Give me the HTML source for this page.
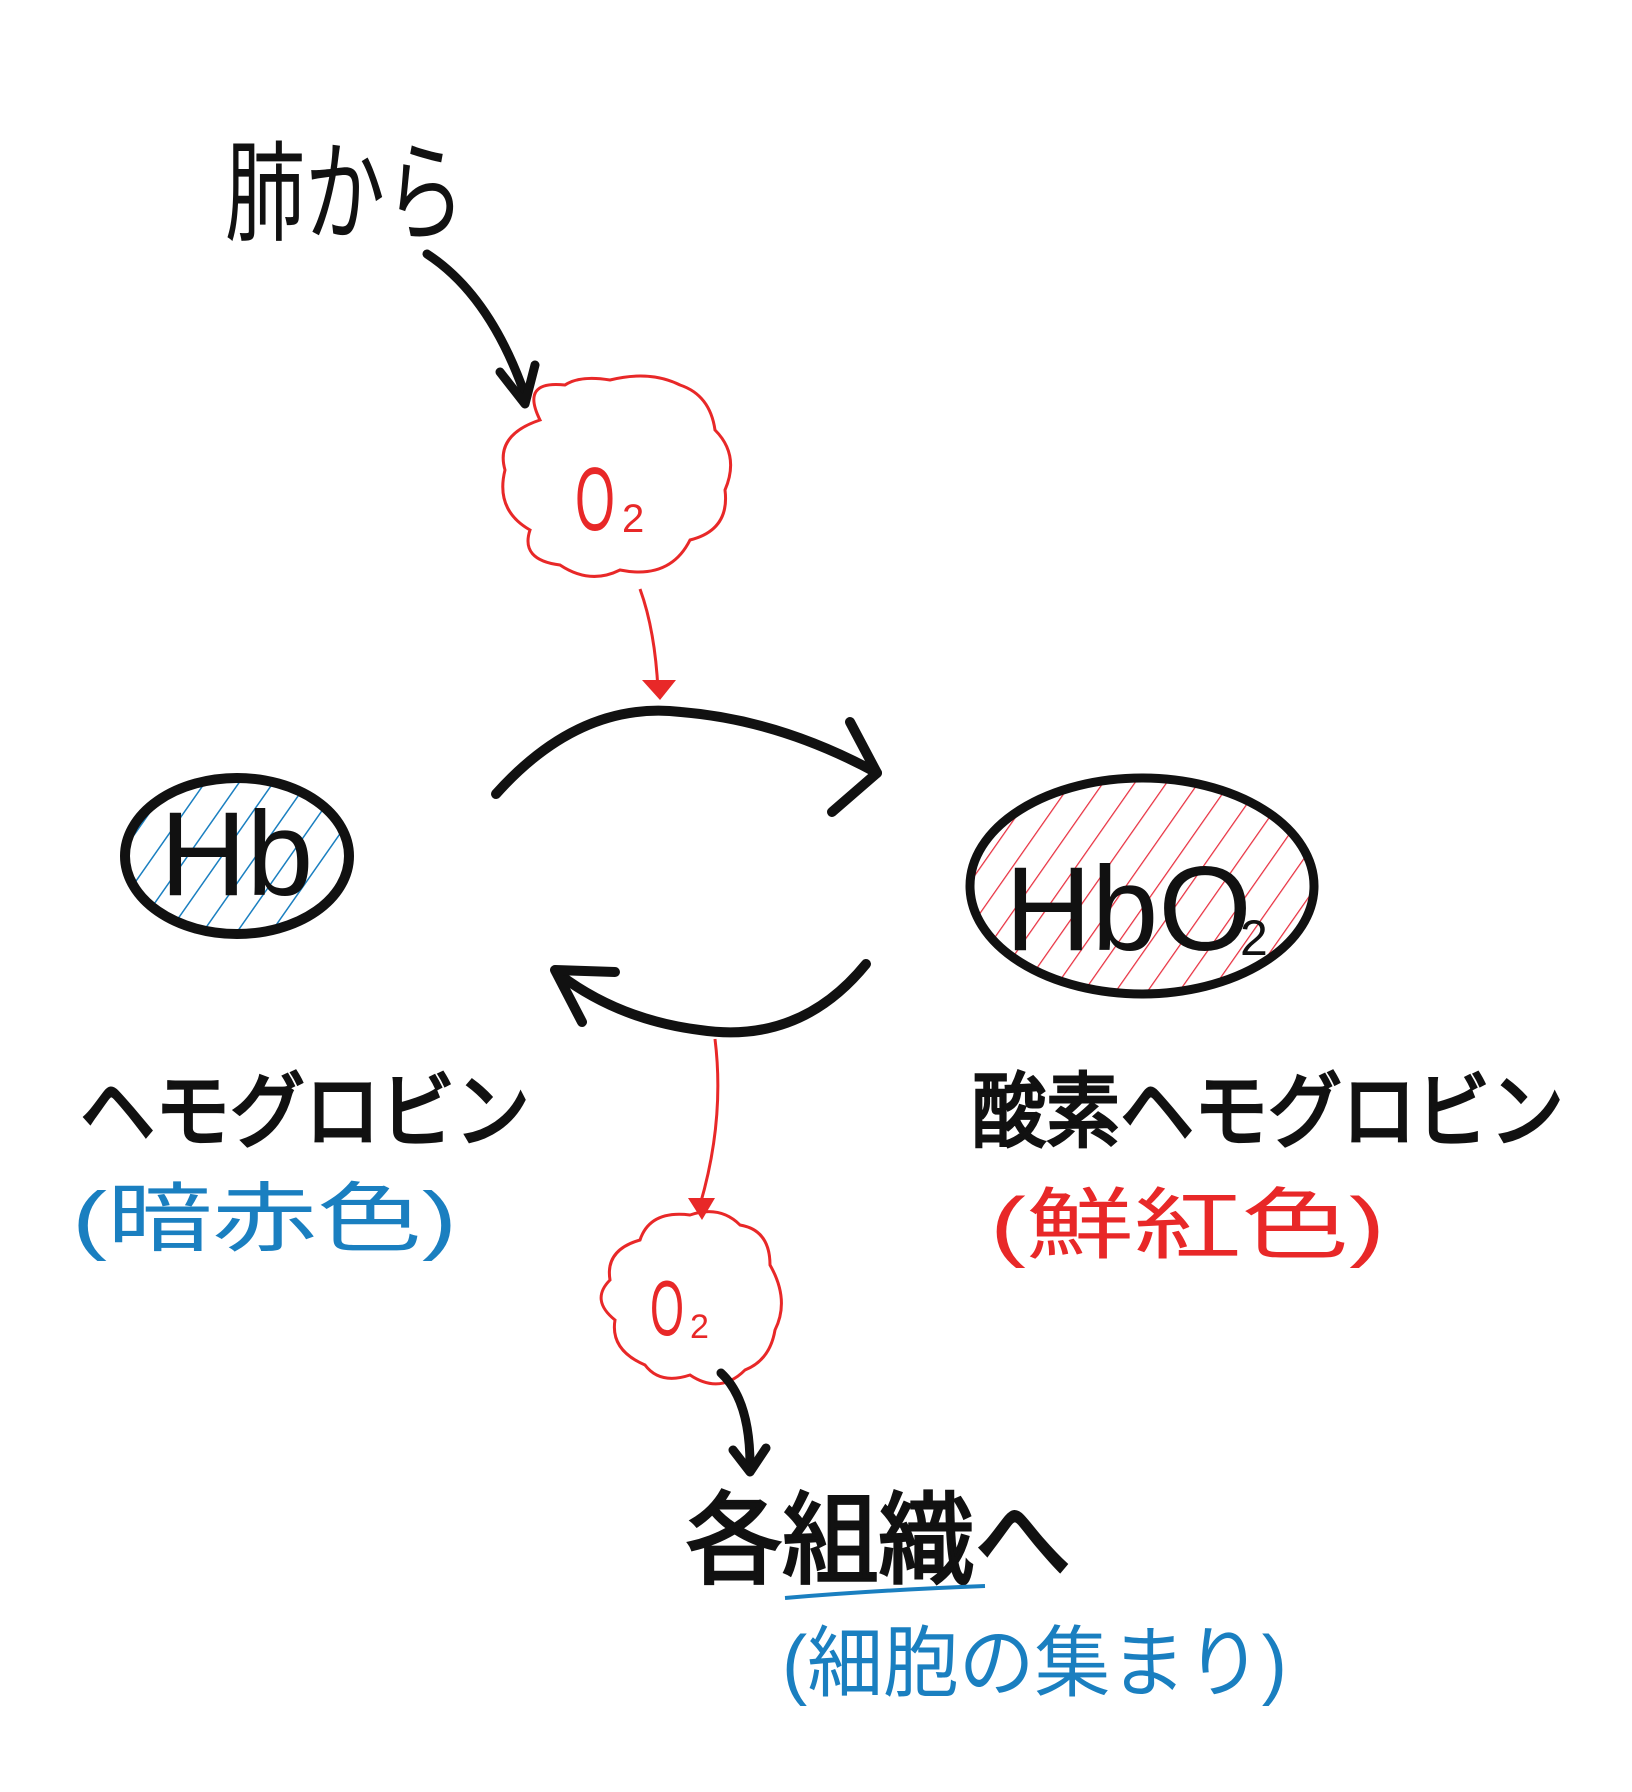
<!DOCTYPE html>
<html><head><meta charset="utf-8">
<style>
html,body{margin:0;padding:0;background:#fff;}
svg{display:block;}
text{font-family:"Liberation Sans","Noto Sans CJK JP",sans-serif;}
</style></head>
<body>
<svg width="1632" height="1792" viewBox="0 0 1632 1792" xmlns="http://www.w3.org/2000/svg">
<defs>
<pattern id="hb" width="28" height="28" patternUnits="userSpaceOnUse" patternTransform="rotate(35)">
<line x1="0" y1="0" x2="0" y2="28" stroke="#1a7fc0" stroke-width="3"/>
</pattern>
<pattern id="hr" width="26" height="26" patternUnits="userSpaceOnUse" patternTransform="rotate(35)">
<line x1="0" y1="0" x2="0" y2="26" stroke="#e83040" stroke-width="2.5"/>
</pattern>
</defs>
<rect width="1632" height="1792" fill="#fff"/>

<text x="225" y="232" font-size="110" fill="#111" textLength="240" lengthAdjust="spacingAndGlyphs">肺から</text>
<path d="M427 254 Q490 295 525 395" fill="none" stroke="#111" stroke-width="9" stroke-linecap="round"/>
<path d="M500 372 L525 404 L535 365" fill="none" stroke="#111" stroke-width="9" stroke-linecap="round" stroke-linejoin="round"/>

<path d="M540 420 Q520 380 565 385 Q580 375 610 380 Q650 370 680 385 Q710 395 715 430 Q740 455 725 490 Q730 530 690 540 Q670 580 620 570 Q590 585 560 565 Q520 560 530 530 Q495 510 505 470 Q495 435 540 420 Z" fill="none" stroke="#e82828" stroke-width="3"/>
<text x="575" y="530" font-size="90" font-weight="300" fill="#e82828" textLength="40" lengthAdjust="spacingAndGlyphs">O</text>
<text x="622" y="532" font-size="40" fill="#e82828">2</text>
<path d="M640 589 Q655 630 658 690" fill="none" stroke="#e82828" stroke-width="3"/>
<path d="M642 680 L676 680 L660 700 Z" fill="#e82828"/>

<path d="M496 794 Q580 700 681 712 Q780 720 877 773" fill="none" stroke="#111" stroke-width="10" stroke-linecap="round"/>
<path d="M850 722 L877 773 L832 812" fill="none" stroke="#111" stroke-width="10" stroke-linecap="round" stroke-linejoin="round"/>

<ellipse cx="237" cy="856" rx="112" ry="78" fill="url(#hb)" stroke="#111" stroke-width="10"/>
<text x="160" y="895" font-size="120" fill="#111">Hb</text>

<ellipse cx="1142" cy="886" rx="172" ry="108" fill="url(#hr)" stroke="#111" stroke-width="9"/>
<text x="1005" y="950" font-size="120" fill="#111">HbO</text>
<text x="1240" y="955" font-size="50" fill="#111">2</text>

<path d="M866 964 Q800 1045 700 1030 Q620 1020 560 975" fill="none" stroke="#111" stroke-width="10" stroke-linecap="round"/>
<path d="M582 1022 L555 970 L615 972" fill="none" stroke="#111" stroke-width="10" stroke-linecap="round" stroke-linejoin="round"/>

<path d="M715 1039 Q725 1120 700 1205" fill="none" stroke="#e82828" stroke-width="3"/>
<path d="M688 1198 L715 1198 L702 1220 Z" fill="#e82828"/>

<path d="M640 1240 Q650 1210 690 1215 Q720 1205 740 1225 Q770 1230 770 1265 Q790 1300 775 1330 Q770 1360 745 1370 Q720 1395 690 1375 Q660 1385 645 1365 Q610 1350 615 1320 Q590 1300 610 1280 Q605 1250 640 1240 Z" fill="none" stroke="#e82828" stroke-width="3"/>
<text x="650" y="1335" font-size="78" font-weight="300" fill="#e82828" textLength="34" lengthAdjust="spacingAndGlyphs">O</text>
<text x="690" y="1338" font-size="34" fill="#e82828">2</text>

<path d="M721 1373 Q750 1400 750 1465" fill="none" stroke="#111" stroke-width="9" stroke-linecap="round"/>
<path d="M733 1450 L750 1472 L766 1448" fill="none" stroke="#111" stroke-width="9" stroke-linecap="round" stroke-linejoin="round"/>

<text x="80" y="1140" font-size="82" fill="#111" stroke="#111" stroke-width="3" textLength="450" lengthAdjust="spacingAndGlyphs">ヘモグロビン</text>
<text x="72" y="1245" font-size="76" fill="#1a7fc0" textLength="385" lengthAdjust="spacingAndGlyphs">(暗赤色)</text>
<text x="972" y="1140" font-size="82" fill="#111" stroke="#111" stroke-width="3" textLength="592" lengthAdjust="spacingAndGlyphs">酸素ヘモグロビン</text>
<text x="990" y="1252" font-size="78" fill="#e82828" textLength="395" lengthAdjust="spacingAndGlyphs">(鮮紅色)</text>

<text x="686" y="1575" font-size="100" fill="#111" stroke="#111" stroke-width="3" textLength="385" lengthAdjust="spacingAndGlyphs">各組織へ</text>
<path d="M785 1598 Q880 1590 985 1586" fill="none" stroke="#1a7fc0" stroke-width="4"/>
<text x="782" y="1690" font-size="78" fill="#1a7fc0" textLength="505" lengthAdjust="spacingAndGlyphs">(細胞の集まり)</text>
</svg>
</body></html>
